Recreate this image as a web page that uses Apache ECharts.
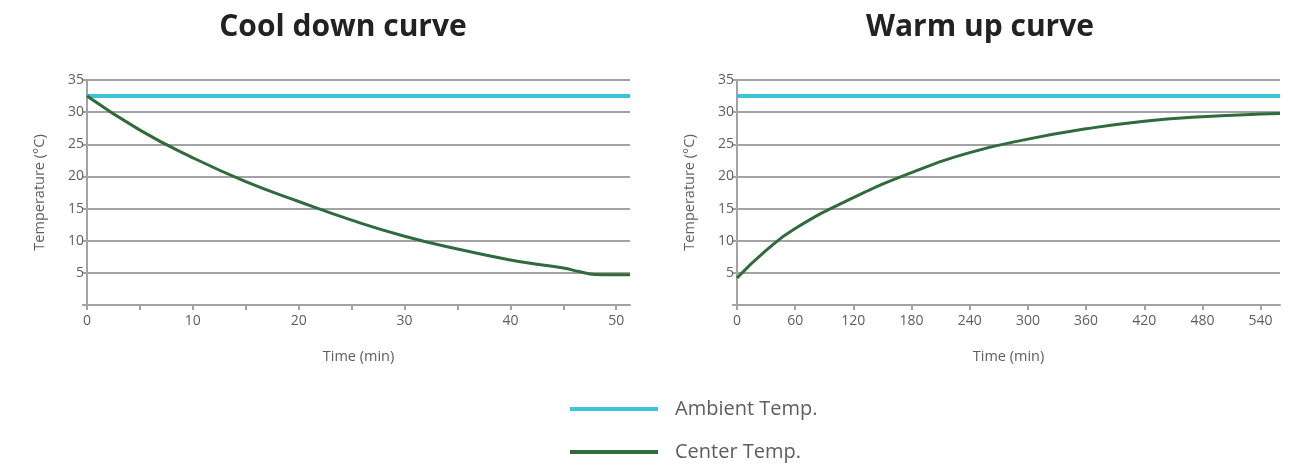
<!DOCTYPE html>
<html>
<head>
<meta charset="utf-8">
<script src="https://cdn.jsdelivr.net/npm/echarts@6/dist/echarts.min.js"></script>
<style>
html,body{margin:0;padding:0;background:#fff;}
#c{width:1299px;height:465px;}
</style>
</head>
<body>
<div id="c"></div>
<script>
// ---- data ----
const titles = ['Cool down curve', 'Warm up curve'];
const seriesNames = ['Ambient Temp.', 'Center Temp.'];
const coolTime   = [0, 5, 10, 15, 20, 25, 30, 35, 40, 42.5, 45, 46.5, 48, 49.5, 51.3];
const coolCenter = [32.5, 27.2, 22.9, 19.2, 16.1, 13.2, 10.7, 8.7, 7.0, 6.35, 5.75, 5.2, 4.75, 4.7, 4.7];
const coolAmbientTime = [0, 51.3];
const coolAmbient = [32.5, 32.5];
const warmTime   = [0, 30, 60, 120, 180, 240, 300, 360, 420, 480, 540, 560];
const warmCenter = [4.2, 8.5, 11.9, 16.7, 20.6, 23.7, 25.8, 27.4, 28.6, 29.3, 29.7, 29.8];
const warmAmbientTime = [0, 560];
const warmAmbient = [32.5, 32.5];
const coolTicks = [0, 5, 10, 15, 20, 25, 30, 35, 40, 45, 50];
const coolLabels = [0, 10, 20, 30, 40, 50];
const warmTicks = [0, 60, 120, 180, 240, 300, 360, 420, 480, 540];

const AMB = '#3cc3dd', CEN = '#2f6b3c', GRID = '#a3a3a3', TXT = '#5e5e5e';
const FONT = '"Open Sans", Lato, sans-serif';

function pairs(xs, ys){ return xs.map((x,i)=>[x, ys[i]]); }

function xAxis(idx, max, ticks, labels){
  return {
    type:'value', gridIndex:idx, min:0, max:max,
    name:'Time (min)', nameLocation:'middle', nameGap:44,
    nameTextStyle:{color:TXT, fontSize:14.5, fontFamily:FONT},
    axisLine:{show:true, lineStyle:{color:GRID, width:2}},
    axisTick:{show:true, length:5, lineStyle:{color:GRID, width:2}, customValues:ticks},
    axisLabel:{color:TXT, fontSize:14, fontFamily:FONT, margin:9, customValues:labels},
    splitLine:{show:false}
  };
}
function yAxis(idx){
  return {
    type:'value', gridIndex:idx, min:0, max:35, interval:5,
    name:'Temperature (°C)', nameLocation:'middle', nameGap:40,
    nameTextStyle:{color:TXT, fontSize:14.5, fontFamily:FONT},
    axisLine:{show:true, lineStyle:{color:GRID, width:2}},
    axisTick:{show:true, length:5, lineStyle:{color:GRID, width:2}},
    axisLabel:{color:TXT, fontSize:14, fontFamily:FONT, margin:3,
      formatter:v=> v===0 ? '' : String(v)},
    splitLine:{show:true, lineStyle:{color:GRID, width:2}}
  };
}
function legendItem(name, top){
  return {
    left:565, top:top, itemWidth:88, itemHeight:4, icon:'rect',
    textStyle:{fontSize:20, color:TXT, fontFamily:FONT, padding:[0,0,0,12]},
    data:[name]
  };
}

const chart = echarts.init(document.getElementById('c'));
chart.setOption({
  animation:false,
  title:[
    {text:titles[0], left:338, top:7, textAlign:'center',
     textStyle:{fontSize:30, fontWeight:'bold', color:'#222', fontFamily:FONT}},
    {text:titles[1], left:975, top:7, textAlign:'center',
     textStyle:{fontSize:30, fontWeight:'bold', color:'#222', fontFamily:FONT}}
  ],
  grid:[
    {left:87, top:80, width:543, height:225},
    {left:737, top:80, width:543, height:225}
  ],
  xAxis:[xAxis(0, 51.3, coolTicks, coolLabels), xAxis(1, 560, warmTicks, warmTicks)],
  yAxis:[yAxis(0), yAxis(1)],
  legend:[legendItem(seriesNames[0], 394), legendItem(seriesNames[1], 437)],
  series:[
    {name:seriesNames[0], type:'line', xAxisIndex:0, yAxisIndex:0, symbol:'none',
     data:pairs(coolAmbientTime, coolAmbient), lineStyle:{color:AMB, width:4}, itemStyle:{color:AMB}, z:3},
    {name:seriesNames[1], type:'line', xAxisIndex:0, yAxisIndex:0, symbol:'none', smooth:true,
     data:pairs(coolTime, coolCenter), lineStyle:{color:CEN, width:3}, itemStyle:{color:CEN}, z:4},
    {name:seriesNames[0], type:'line', xAxisIndex:1, yAxisIndex:1, symbol:'none',
     data:pairs(warmAmbientTime, warmAmbient), lineStyle:{color:AMB, width:4}, itemStyle:{color:AMB}, z:3},
    {name:seriesNames[1], type:'line', xAxisIndex:1, yAxisIndex:1, symbol:'none', smooth:true,
     data:pairs(warmTime, warmCenter), lineStyle:{color:CEN, width:3}, itemStyle:{color:CEN}, z:4}
  ]
});
</script>
</body>
</html>
